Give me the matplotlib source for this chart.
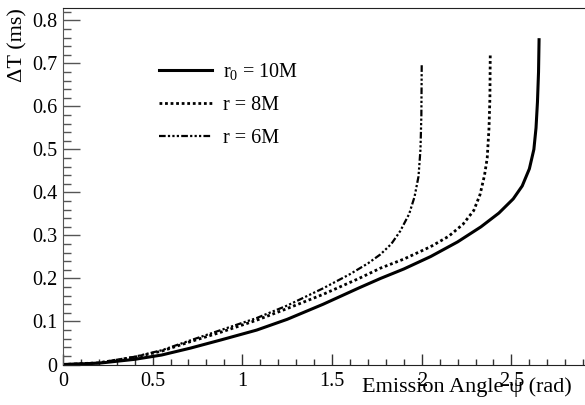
import matplotlib
matplotlib.use('Agg')
import matplotlib.pyplot as plt
from matplotlib.ticker import MultipleLocator

plt.rcParams['font.family'] = ['Liberation Serif', 'DejaVu Serif']
plt.rcParams['mathtext.fontset'] = 'custom'
plt.rcParams['mathtext.rm'] = 'Liberation Serif'
plt.rcParams['mathtext.it'] = 'Liberation Serif'

# emission angle (rad) vs time delay (ms)
psi_r10 = [0, 0.2, 0.4, 0.55, 0.71, 0.88, 1.08, 1.25, 1.45, 1.65, 1.77, 1.9, 2.05,
           2.2, 2.33, 2.43, 2.51, 2.56, 2.6, 2.625, 2.637, 2.645, 2.651, 2.654]
dt_r10 = [0, 0.003, 0.012, 0.022, 0.038, 0.057, 0.080, 0.105, 0.140, 0.178, 0.200,
          0.222, 0.251, 0.285, 0.320, 0.352, 0.385, 0.415, 0.455, 0.50, 0.55, 0.61,
          0.68, 0.755]

psi_r8 = [0, 0.2, 0.4, 0.55, 0.71, 0.88, 1.08, 1.25, 1.45, 1.65, 1.77, 1.9, 2.05,
          2.15, 2.23, 2.29, 2.325, 2.35, 2.365, 2.375, 2.38, 2.382]
dt_r8 = [0, 0.004, 0.017, 0.031, 0.053, 0.075, 0.103, 0.130, 0.163, 0.200, 0.224,
         0.245, 0.274, 0.298, 0.326, 0.358, 0.395, 0.44, 0.48, 0.55, 0.62, 0.724]

psi_r6 = [0, 0.2, 0.4, 0.55, 0.71, 0.88, 1.08, 1.25, 1.45, 1.6, 1.7, 1.77, 1.83,
          1.88, 1.93, 1.96, 1.982, 1.993, 1.998, 2.0]
dt_r6 = [0, 0.004, 0.018, 0.033, 0.056, 0.080, 0.108, 0.137, 0.177, 0.21, 0.235,
         0.256, 0.28, 0.31, 0.35, 0.39, 0.437, 0.50, 0.58, 0.70]

labels = ['r$_0$ = 10M', 'r = 8M', 'r = 6M']

fig = plt.figure(figsize=(5.85, 4.05), dpi=100)
ax = fig.add_axes([0.1075, 0.1, 0.8925, 0.8795])

ax.plot(psi_r10, dt_r10, color='black', lw=2.2, ls='-', label=labels[0])
ax.plot(psi_r8, dt_r8, color='black', lw=2.0, ls=(0, (1, 1)), label=labels[1])
ax.plot(psi_r6, dt_r6, color='black', lw=1.6,
        ls=(0, (3, 1, 1, 1, 1, 1, 1, 1)), label=labels[2])

ax.set_xlim(0, 2.91)
ax.set_ylim(0, 0.828)
ax.xaxis.set_minor_locator(MultipleLocator(0.1))
ax.yaxis.set_minor_locator(MultipleLocator(0.02))
ax.set_xticks([0, 0.5, 1, 1.5, 2, 2.5])
ax.set_xticklabels(['0', '0.5', '1', '1.5', '2', '2.5'])
ax.set_yticks([0, 0.1, 0.2, 0.3, 0.4, 0.5, 0.6, 0.7, 0.8])
ax.set_yticklabels(['0', '0.1', '0.2', '0.3', '0.4', '0.5', '0.6', '0.7', '0.8'])

ax.tick_params(axis='y', which='major', direction='in', length=12, width=1,
               color='#555555', labelsize=14.5, pad=4)
ax.tick_params(axis='y', which='minor', direction='in', length=6, width=1, color='#555555')
ax.tick_params(axis='x', which='major', direction='in', length=8, width=1,
               color='#333333', labelsize=14.5, pad=5.5)
ax.tick_params(axis='x', which='minor', direction='in', length=4.3, width=1, color='#333333')

ax.spines['right'].set_visible(False)
ax.spines['left'].set_color('#555555')
ax.spines['bottom'].set_color('#222222')
ax.spines['top'].set_color('#222222')

ax.set_xlabel('Emission Angle \u03c8 (rad)', fontsize=16, loc='right')
ax.xaxis.set_label_coords((572 - 62.9) / 522.1, -0.036)
ax.set_ylabel('\u0394T (ms)', fontsize=16, loc='top')
ax.yaxis.set_label_coords(-0.067, 1.0)

ax.legend(loc='upper left', bbox_to_anchor=(0.184, 0.852), frameon=False,
          fontsize=14.5, handlelength=2.64, handletextpad=0.55,
          labelspacing=0.7, borderpad=0, borderaxespad=0)

fig.savefig('out.png', dpi=100)
